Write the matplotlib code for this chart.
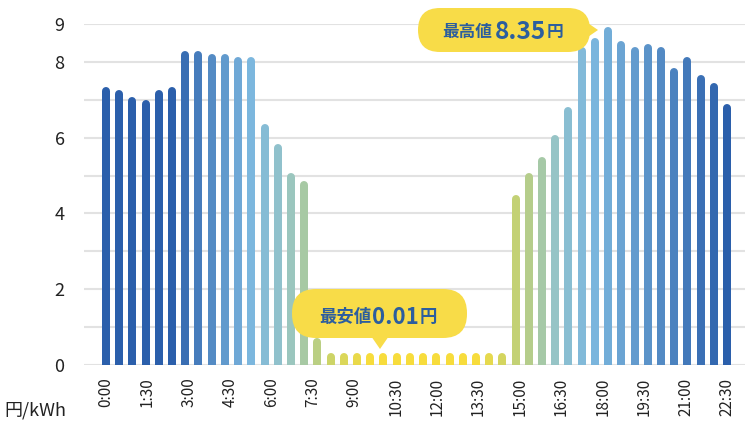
import numpy as np
import matplotlib
matplotlib.use("Agg")
import matplotlib.pyplot as plt
from matplotlib.colors import LinearSegmentedColormap
from matplotlib.patches import FancyBboxPatch, Polygon

plt.rcParams['font.family'] = ['Noto Sans CJK JP', 'DejaVu Sans']

# 30分ごとの単価 (円/kWh) - 図から読み取り
times = [f"{h}:{m:02d}" for h in range(24) for m in (0, 30)]
prices = [7.34, 7.26, 7.08, 6.99, 7.26, 7.34,
          8.29, 8.29, 8.21, 8.21, 8.12, 8.12,
          6.36, 5.82, 5.07, 4.86,
          0.70,
          0.32, 0.32, 0.32, 0.32, 0.32, 0.32, 0.32,
          0.32, 0.32, 0.32, 0.32, 0.32, 0.32, 0.32,
          4.49, 5.07, 5.50, 6.07, 6.82,
          8.38, 8.64, 8.91, 8.56, 8.38, 8.47, 8.38, 7.83, 8.12, 7.65, 7.43, 6.90]
tick_labels = times[::3]
y_ticks = list(range(10))
y_labels = ["0", "", "2", "", "4", "", "6", "", "8", "9"]
max_text = "8.35"
min_text = "0.01"

# 色のグラデーション (青 -> 水色 -> 緑 -> 黄)
cmap = LinearSegmentedColormap.from_list(
    "price", [(0.0, "#2b5fab"), (0.4, "#7cb7de"), (0.55, "#98c5c5"),
              (0.65, "#aecb95"), (0.8, "#cdd467"), (1.0, "#f7dc3c")])
idx = np.arange(len(prices))
t = np.interp(idx, [0, 5, 11, 15, 17, 20, 28, 31, 35, 47],
              [0, 0, 0.4, 0.62, 0.8, 1, 1, 0.75, 0.47, 0])
colors = cmap(t)

W, H = 750, 440
fig = plt.figure(figsize=(W / 100, H / 100), dpi=100)
ax_l, ax_r, ax_t, ax_b = 84, 745, 24, 365
ax = fig.add_axes([ax_l / W, 1 - ax_b / H, (ax_r - ax_l) / W, (ax_b - ax_t) / H])

ax.set_ylim(0, 9)
ax.set_xlim(-1.66, 48.36)

bar_px = 8
cap = (bar_px / 2) / ((ax_b - ax_t) / 9)
ax.vlines(idx, -1, np.array(prices) - cap, colors=colors,
          linewidth=bar_px * 72 / 100, capstyle='round', zorder=3)

ax.set_yticks(y_ticks)
ax.set_yticklabels(y_labels, fontsize=13, color="#222222")
ax.set_xticks(np.linspace(0, len(prices) - 1, len(tick_labels)))
ax.set_xticklabels(tick_labels, rotation=90, fontsize=11, color="#222222")
ax.tick_params(axis='both', length=0)
ax.tick_params(axis='y', pad=14)
ax.tick_params(axis='x', pad=9)
ax.grid(axis='y', color="#e2e2e2", linewidth=1.5)
ax.set_axisbelow(True)
for s in ax.spines.values():
    s.set_visible(False)

fig.text(4 / W, 1 - 410 / H, "円/kWh", fontsize=13, color="#222222", va='center')

# 吹き出し
ov = fig.add_axes([0, 0, 1, 1], zorder=5)
ov.set_xlim(0, W)
ov.set_ylim(H, 0)
ov.axis('off')
yellow = "#f8dc48"
navy = "#2c5e9e"
renderer = fig.canvas.get_renderer()


def bubble_text(x, y, parts):
    # parts: (文字列, サイズ, 余白px) を左から順に並べる
    for s, size, gap in parts:
        x += gap
        tx = ov.text(x, y, s, fontsize=size, fontweight='bold', color=navy,
                     ha='left', va='center')
        bb = tx.get_window_extent(renderer)
        x += bb.width


ov.add_patch(FancyBboxPatch((418, 8), 172, 44, boxstyle="round,pad=0,rounding_size=22",
                            fc=yellow, ec='none'))
ov.add_patch(Polygon([(566, 8), (598, 30), (566, 52)], fc=yellow, ec='none'))
bubble_text(442, 32, [("最高値", 12, 0), (max_text, 17.5, 3), ("円", 12, 1)])

ov.add_patch(FancyBboxPatch((292, 289), 175, 49, boxstyle="round,pad=0,rounding_size=24",
                            fc=yellow, ec='none'))
ov.add_patch(Polygon([(371, 336), (380, 349), (389, 336)], fc=yellow, ec='none'))
bubble_text(319, 317, [("最安値", 12.5, 0), (min_text, 16, 1), ("円", 12.5, 1)])

fig.savefig("out.png", dpi=100)
